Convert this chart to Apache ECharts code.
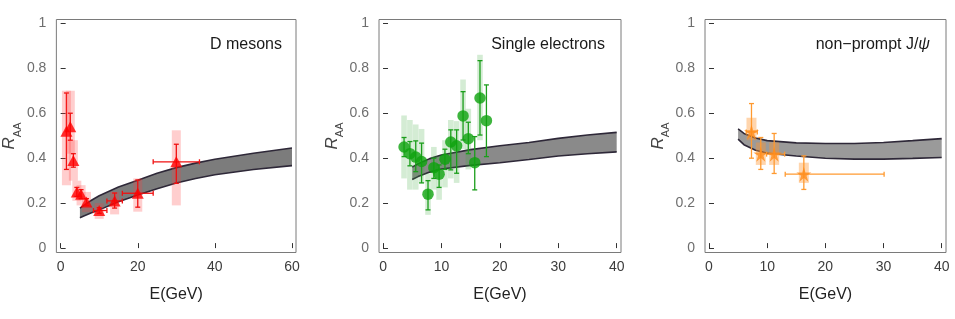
<!DOCTYPE html>
<html><head><meta charset="utf-8">
<script src="https://cdn.jsdelivr.net/npm/echarts@6/dist/echarts.min.js"></script>
<style>html,body{margin:0;padding:0;background:#fff}#c{width:955px;height:319px}</style>
</head><body><div id="c"></div>
<script>
// ---------- data ----------
const xTicks1 = [0, 20, 40, 60];
const xTicks23 = [0, 10, 20, 30, 40];
const yTicks = [0, 0.2, 0.4, 0.6, 0.8, 1];
const panelTitles = ['D mesons', 'Single electrons', 'non−prompt J/'];

// theory bands
const band1E  = [5, 6, 8, 10, 15, 20, 25, 30, 35, 40, 50, 60];
const band1Up = [0.178, 0.19, 0.213, 0.233, 0.272, 0.302, 0.333, 0.358, 0.378, 0.395, 0.422, 0.445];
const band1Lo = [0.135, 0.143, 0.157, 0.17, 0.206, 0.236, 0.264, 0.29, 0.31, 0.326, 0.35, 0.367];

const band2E  = [5, 6, 8, 10, 15, 20, 25, 30, 35, 40];
const band2Up = [0.36, 0.375, 0.398, 0.414, 0.438, 0.455, 0.47, 0.488, 0.503, 0.515];
const band2Lo = [0.305, 0.318, 0.338, 0.352, 0.368, 0.38, 0.394, 0.41, 0.42, 0.428];

const band3E  = [5, 6, 8, 10, 15, 20, 25, 30, 35, 40];
const band3Up = [0.53, 0.51, 0.49, 0.478, 0.468, 0.465, 0.465, 0.47, 0.478, 0.487];
const band3Lo = [0.485, 0.46, 0.435, 0.422, 0.41, 0.4, 0.396, 0.396, 0.399, 0.403];

// D mesons
const dE     = [1.5, 2.5, 3.3, 4.2, 5.3, 6.7, 10, 14, 20, 30];
const dR     = [0.52, 0.54, 0.39, 0.25, 0.24, 0.205, 0.167, 0.21, 0.244, 0.384];
const dErrLo = [0.35, 0.48, 0.36, 0.23, 0.22, 0.19, 0.155, 0.178, 0.182, 0.288];
const dErrHi = [0.69, 0.60, 0.42, 0.27, 0.26, 0.22, 0.18, 0.245, 0.303, 0.462];
const dSysLo = [0.28, 0.42, 0.30, 0.21, 0.19, 0.16, 0.13, 0.15, 0.162, 0.19];
const dSysHi = [0.70, 0.70, 0.48, 0.30, 0.28, 0.25, 0.20, 0.25, 0.31, 0.524];
const dXLo   = [null, null, null, null, null, null, 8.5, 12, 16, 24];
const dXHi   = [null, null, null, null, null, null, 12, 16, 24, 36];

// Single electrons
const eE     = [3.6, 4.6, 5.6, 6.6, 7.7, 8.7, 9.6, 10.6, 11.6, 12.6, 13.7, 14.6, 15.7, 16.6, 17.7];
const eR     = [0.45, 0.42, 0.405, 0.385, 0.24, 0.358, 0.329, 0.395, 0.472, 0.455, 0.588, 0.487, 0.38, 0.668, 0.567];
const eErrLo = [0.407, 0.366, 0.34, 0.29, 0.17, 0.31, 0.27, 0.35, 0.348, 0.333, 0.481, 0.42, 0.259, 0.503, 0.407];
const eErrHi = [0.492, 0.474, 0.477, 0.467, 0.30, 0.40, 0.37, 0.44, 0.526, 0.526, 0.696, 0.56, 0.496, 0.834, 0.726];
const eSysLo = [0.31, 0.26, 0.26, 0.29, 0.148, 0.26, 0.215, 0.27, 0.31, 0.29, 0.44, 0.35, null, 0.48, null];
const eSysHi = [0.59, 0.57, 0.55, 0.53, 0.333, 0.45, 0.41, 0.48, 0.57, 0.565, 0.75, 0.62, null, 0.86, null];

// non-prompt J/psi
const jE     = [7.3, 8.9, 11.2, 16.3];
const jR     = [0.517, 0.418, 0.418, 0.329];
const jErrLo = [0.40, 0.35, 0.332, 0.261];
const jErrHi = [0.643, 0.492, 0.51, 0.41];
const jSysLo = [0.48, 0.37, 0.37, 0.29];
const jSysHi = [0.58, 0.47, 0.47, 0.38];
const jXLo   = [6.4, null, 9.9, 13.1];
const jXHi   = [8.3, null, 13.0, 30.1];

// ---------- helpers ----------
const FONT = "'Liberation Sans', Arial, sans-serif";
function rows(E, R, eLo, eHi, sLo, sHi, xLo, xHi) {
  return E.map((e, i) => [e, R[i], eLo[i], eHi[i],
    sLo[i] == null ? '-' : sLo[i], sHi[i] == null ? '-' : sHi[i],
    xLo && xLo[i] != null ? xLo[i] : '-', xHi && xHi[i] != null ? xHi[i] : '-']);
}
function errRender(hw, color, sysColor) {
  return function (params, api) {
    const E = api.value(0), R = api.value(1);
    const ch = [];
    const sLo = api.value(4), sHi = api.value(5);
    if (!isNaN(sLo) && !isNaN(sHi)) {
      const a = api.coord([E, sHi]), b = api.coord([E, sLo]);
      ch.push({ type: 'rect', shape: { x: a[0] - hw, y: a[1], width: 2 * hw, height: b[1] - a[1] }, style: { fill: sysColor } });
    }
    const lo = api.coord([E, api.value(2)]), hi = api.coord([E, api.value(3)]);
    const ls = { stroke: color, lineWidth: 1.3 };
    ch.push({ type: 'line', shape: { x1: lo[0], y1: lo[1], x2: hi[0], y2: hi[1] }, style: ls });
    ch.push({ type: 'line', shape: { x1: lo[0] - 2.5, y1: lo[1], x2: lo[0] + 2.5, y2: lo[1] }, style: ls });
    ch.push({ type: 'line', shape: { x1: hi[0] - 2.5, y1: hi[1], x2: hi[0] + 2.5, y2: hi[1] }, style: ls });
    const xl = api.value(6), xh = api.value(7);
    if (!isNaN(xl) && !isNaN(xh)) {
      const l = api.coord([xl, R]), r = api.coord([xh, R]);
      ch.push({ type: 'line', shape: { x1: l[0], y1: l[1], x2: r[0], y2: r[1] }, style: ls });
      ch.push({ type: 'line', shape: { x1: l[0], y1: l[1] - 2.5, x2: l[0], y2: l[1] + 2.5 }, style: ls });
      ch.push({ type: 'line', shape: { x1: r[0], y1: r[1] - 2.5, x2: r[0], y2: r[1] + 2.5 }, style: ls });
    }
    return { type: 'group', children: ch };
  };
}
function bandSeries(idx, E, up, lo, fill) {
  return [
    { type: 'custom', xAxisIndex: idx, yAxisIndex: idx, data: [[E[0], up[0]]], z: 1, silent: true,
      renderItem: function (params, api) {
        const pts = [];
        for (let i = 0; i < E.length; i++) pts.push(api.coord([E[i], up[i]]));
        for (let i = E.length - 1; i >= 0; i--) pts.push(api.coord([E[i], lo[i]]));
        return { type: 'polygon', shape: { points: pts, smooth: 0 }, style: { fill: fill, stroke: null } };
      } },
    { type: 'line', xAxisIndex: idx, yAxisIndex: idx, data: E.map((e, i) => [e, up[i]]), smooth: false, showSymbol: false, z: 2,
      lineStyle: { color: '#2e2838', width: 1.6 } },
    { type: 'line', xAxisIndex: idx, yAxisIndex: idx, data: E.map((e, i) => [e, lo[i]]), smooth: false, showSymbol: false, z: 2,
      lineStyle: { color: '#2e2838', width: 1.6 } }
  ];
}
const grids = [
  { left: 55, top: 19.5, width: 241, height: 233 },
  { left: 379, top: 19.5, width: 242, height: 233 },
  { left: 705, top: 19.5, width: 241, height: 233 }
];
const xRanges = [[-1.11, 61.04, xTicks1], [-0.69, 40.74, xTicks23], [-0.69, 40.74, xTicks23]];
const Y_MIN = -0.0196, Y_MAX = 1.017;

const option = {
  animation: false,
  backgroundColor: '#fff',
  grid: grids.map(g => Object.assign({ show: true, borderColor: '#7a7a7a', borderWidth: 1, backgroundColor: 'transparent' }, g)),
  xAxis: xRanges.map((r, i) => ({
    type: 'value', gridIndex: i, min: r[0], max: r[1],
    axisLine: { show: false }, splitLine: { show: false },
    axisTick: { show: true, inside: true, length: 5, customValues: r[2], lineStyle: { color: '#333' } },
    axisLabel: { customValues: r[2], margin: 8, color: '#3c3c3c', fontSize: 14, fontFamily: FONT },
    name: 'E(GeV)', nameLocation: 'middle', nameGap: 34,
    nameTextStyle: { color: '#222', fontSize: 16, fontFamily: FONT }
  })),
  yAxis: [0, 1, 2].map(i => ({
    type: 'value', gridIndex: i, min: Y_MIN, max: Y_MAX,
    axisLine: { show: false }, splitLine: { show: false },
    axisTick: { show: true, inside: true, length: 5, customValues: yTicks, lineStyle: { color: '#333' } },
    axisLabel: { customValues: yTicks, margin: 10, color: '#6e6e6e', fontSize: 14, fontFamily: FONT,
      formatter: v => (v === 0 || v === 1) ? String(v) : v.toFixed(1) },
    name: '{r|R}{s|AA}', nameLocation: 'middle', nameGap: 28,
    nameTextStyle: { fontFamily: FONT, color: '#444',
      rich: { r: { fontSize: 17, fontStyle: 'italic', color: '#444', fontFamily: FONT, lineHeight: 18, verticalAlign: 'top' },
              s: { fontSize: 11, color: '#444', fontFamily: FONT, lineHeight: 22, verticalAlign: 'bottom' } } }
  })),
  graphic: [
    { type: 'text', x: 282, y: 45, style: { text: panelTitles[0], fill: '#1a1a1a', font: '16px ' + FONT, textAlign: 'right', textVerticalAlign: 'middle' } },
    { type: 'text', x: 605, y: 45, style: { text: panelTitles[1], fill: '#1a1a1a', font: '16px ' + FONT, textAlign: 'right', textVerticalAlign: 'middle' } },
    { type: 'text', x: 930, y: 45, style: { text: '{n|' + panelTitles[2] + '}{i|ψ}', textAlign: 'right', textVerticalAlign: 'middle',
        rich: { n: { fontSize: 16, fontFamily: FONT, fill: '#1a1a1a' }, i: { fontSize: 16, fontFamily: FONT, fontStyle: 'italic', fill: '#1a1a1a' } } } }
  ],
  series: [
    ...bandSeries(0, band1E, band1Up, band1Lo, '#7c7c7c'),
    ...bandSeries(1, band2E, band2Up, band2Lo, '#8a8a8a'),
    ...bandSeries(2, band3E, band3Up, band3Lo, '#9a9a9a'),
    { type: 'custom', xAxisIndex: 0, yAxisIndex: 0, z: 3, data: rows(dE, dR, dErrLo, dErrHi, dSysLo, dSysHi, dXLo, dXHi),
      encode: { x: 0, y: 1 }, renderItem: errRender(4.5, '#f01010', 'rgba(255,60,60,0.25)') },
    { type: 'scatter', xAxisIndex: 0, yAxisIndex: 0, z: 4, symbol: 'triangle', symbolSize: [12, 11],
      itemStyle: { color: '#ff0000' }, data: dE.map((e, i) => [e, dR[i]]) },
    { type: 'custom', xAxisIndex: 1, yAxisIndex: 1, z: 3, data: rows(eE, eR, eErrLo, eErrHi, eSysLo, eSysHi, null, null),
      encode: { x: 0, y: 1 }, renderItem: errRender(2.8, '#1b9e1b', 'rgba(60,170,60,0.22)') },
    { type: 'scatter', xAxisIndex: 1, yAxisIndex: 1, z: 4, symbol: 'circle', symbolSize: 11.5,
      itemStyle: { color: '#0ea30e' }, data: eE.map((e, i) => [e, eR[i]]) },
    { type: 'custom', xAxisIndex: 2, yAxisIndex: 2, z: 3, data: rows(jE, jR, jErrLo, jErrHi, jSysLo, jSysHi, jXLo, jXHi),
      encode: { x: 0, y: 1 }, renderItem: errRender(5, '#ff9a30', 'rgba(255,150,50,0.4)') },
    { type: 'scatter', xAxisIndex: 2, yAxisIndex: 2, z: 4,
      symbol: 'path://M50,0 L60,37 L98,37 L67,59 L79,96 L50,73 L21,96 L33,59 L2,37 L40,37 Z', symbolSize: 15,
      itemStyle: { color: '#ff8c1a' }, data: jE.map((e, i) => [e, jR[i]]) }
  ]
};
echarts.init(document.getElementById('c'), null, { renderer: 'canvas' }).setOption(option);
</script>
</body></html>
